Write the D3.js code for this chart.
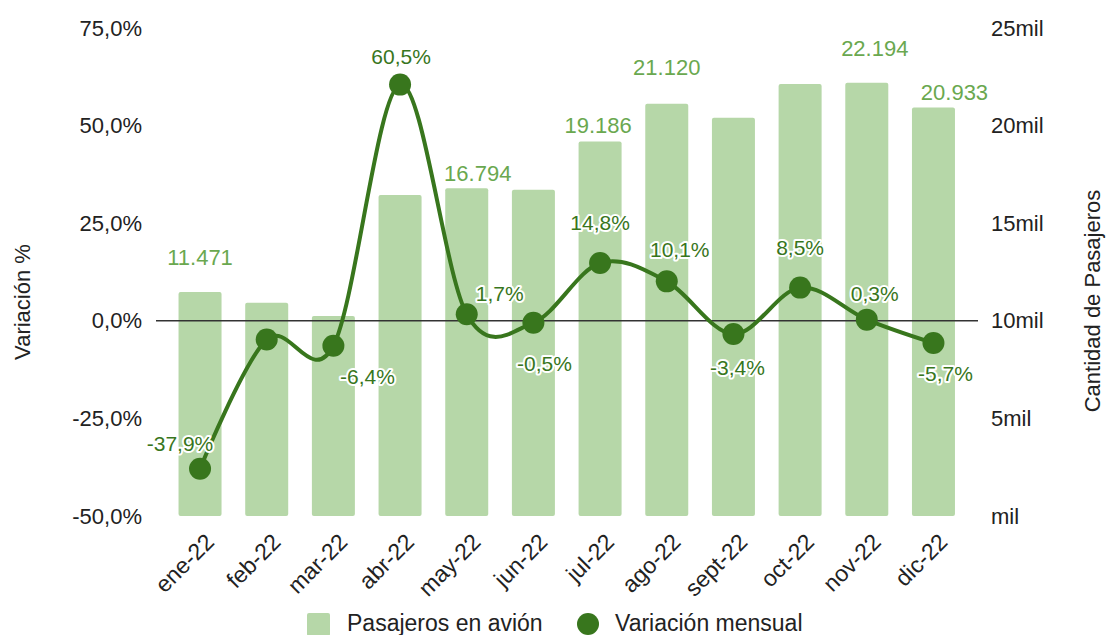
<!DOCTYPE html>
<html>
<head>
<meta charset="utf-8">
<script src="https://d3js.org/d3.v7.min.js"></script>
<style>
  body { margin: 0; background: #fff; }
  text { font-family: "Liberation Sans", Arial, sans-serif; }
</style>
</head>
<body>
<div id="chart"></div>
<script>
// data
var months = ["ene-22", "feb-22", "mar-22", "abr-22", "may-22", "jun-22",
              "jul-22", "ago-22", "sept-22", "oct-22", "nov-22", "dic-22"];
var pasajeros = [11471, 10920, 10250, 16450, 16794, 16710,
                 19186, 21120, 20402, 22136, 22194, 20933];
var variacion = [-37.9, -4.8, -6.4, 60.5, 1.7, -0.5,
                 14.8, 10.1, -3.4, 8.5, 0.3, -5.7];
var leftTicks = [-50, -25, 0, 25, 50, 75];
var rightTicks = [0, 5000, 10000, 15000, 20000, 25000];

// label placement (offset from bar top / point), null = hidden
var barLabelPos = [[0, -35], null, null, null, [11, -15], null,
                   [-2, -16], [0, -36], null, null, [8, -34], [21, -15]];
var lineLabelPos = [[-20, -25], null, [34, 31], [1, -28], [33, -21], [11, 41],
                    [0, -40], [13, -32], [4, 34], [0, -40], [8, -26], [12, 31]];

var svgWidth = 1106, svgHeight = 635;
var plot = { left: 166.7, right: 966.8, top: 28, bottom: 516 };

var barColor = "#b6d7a8", barText = "#6aa84f", lineColor = "#38761d";

var es = d3.formatLocale({ decimal: ",", thousands: ".", grouping: [3], currency: ["", ""], minus: "-" });
var fmtPct = es.format(".1f");
var fmtInt = es.format(",d");

var svg = d3.select("#chart").append("svg")
    .attr("width", svgWidth)
    .attr("height", svgHeight);

var x = d3.scaleBand()
    .domain(months)
    .range([plot.left, plot.right])
    .paddingInner(0.355)
    .paddingOuter(0.1775);

var yL = d3.scaleLinear().domain([-50, 75]).range([plot.bottom, plot.top]);
var yR = d3.scaleLinear().domain([0, 25000]).range([plot.bottom, plot.top]);

var rows = months.map((m, i) => ({
    month: m, pas: pasajeros[i], vari: variacion[i],
    barPos: barLabelPos[i], linePos: lineLabelPos[i]
}));
var cx = d => x(d.month) + x.bandwidth() / 2;

// left axis
svg.append("g")
    .attr("transform", "translate(142,0)")
    .call(d3.axisLeft(yL).tickValues(leftTicks).tickSize(0).tickPadding(0)
        .tickFormat(d => fmtPct(d) + "%"))
    .call(g => g.select(".domain").remove())
    .selectAll("text")
    .attr("font-size", 22)
    .attr("fill", "#222")
    .attr("font-family", null);

// right axis
svg.append("g")
    .attr("transform", "translate(991,0)")
    .call(d3.axisRight(yR).tickValues(rightTicks).tickSize(0).tickPadding(0)
        .tickFormat(d => (d === 0 ? "" : d / 1000) + "mil"))
    .call(g => g.select(".domain").remove())
    .selectAll("text")
    .attr("font-size", 22)
    .attr("fill", "#222")
    .attr("font-family", null);

// bars
svg.append("g").selectAll("rect")
    .data(rows)
    .enter()
    .append("rect")
    .attr("x", d => x(d.month))
    .attr("y", d => yR(d.pas))
    .attr("width", x.bandwidth())
    .attr("height", d => yR(0) - yR(d.pas))
    .attr("rx", 2)
    .attr("fill", barColor);

// zero line
svg.append("line")
    .attr("x1", 156).attr("x2", 978)
    .attr("y1", yL(0)).attr("y2", yL(0))
    .attr("stroke", "#333")
    .attr("stroke-width", 1.5);

// x labels
svg.append("g").selectAll("text")
    .data(months)
    .enter()
    .append("text")
    .attr("transform", d => `translate(${x(d) + x.bandwidth() / 2 + 4},${plot.bottom + 16}) rotate(-45)`)
    .attr("text-anchor", "end")
    .attr("dy", "0.7em")
    .attr("font-size", 23)
    .attr("fill", "#222")
    .text(d => d);

// bar labels
svg.append("g").selectAll("text")
    .data(rows.filter(d => d.barPos))
    .enter()
    .append("text")
    .attr("x", d => cx(d) + d.barPos[0])
    .attr("y", d => yR(d.pas) + d.barPos[1])
    .attr("dy", "0.35em")
    .attr("text-anchor", "middle")
    .attr("font-size", 22)
    .attr("fill", barText)
    .text(d => fmtInt(d.pas));

// line
var line = d3.line()
    .x(cx)
    .y(d => yL(d.vari))
    .curve(d3.curveCardinal.tension(0));

svg.append("path")
    .datum(rows)
    .attr("d", line)
    .attr("fill", "none")
    .attr("stroke", lineColor)
    .attr("stroke-width", 4);

svg.append("g").selectAll("circle")
    .data(rows)
    .enter()
    .append("circle")
    .attr("cx", cx)
    .attr("cy", d => yL(d.vari))
    .attr("r", 11)
    .attr("fill", lineColor);

// line labels with white halo
svg.append("g").selectAll("text")
    .data(rows.filter(d => d.linePos))
    .enter()
    .append("text")
    .attr("x", d => cx(d) + d.linePos[0])
    .attr("y", d => yL(d.vari) + d.linePos[1])
    .attr("dy", "0.35em")
    .attr("text-anchor", "middle")
    .attr("font-size", 21)
    .attr("fill", lineColor)
    .attr("stroke", "#fff")
    .attr("stroke-width", 4)
    .attr("stroke-linejoin", "round")
    .attr("paint-order", "stroke")
    .text(d => fmtPct(d.vari) + "%");

// axis titles
svg.append("text")
    .attr("transform", "translate(30,302) rotate(-90)")
    .attr("text-anchor", "middle")
    .attr("font-size", 22)
    .attr("fill", "#222")
    .text("Variación %");

svg.append("text")
    .attr("transform", "translate(1100,301) rotate(-90)")
    .attr("text-anchor", "middle")
    .attr("font-size", 22)
    .attr("fill", "#222")
    .text("Cantidad de Pasajeros");

// legend
var legend = svg.append("g");
legend.append("rect")
    .attr("x", 307).attr("y", 613)
    .attr("width", 23).attr("height", 23)
    .attr("rx", 2)
    .attr("fill", barColor);
legend.append("text")
    .attr("x", 347).attr("y", 623).attr("dy", "0.35em")
    .attr("font-size", 23).attr("fill", "#222")
    .text("Pasajeros en avión");
legend.append("circle")
    .attr("cx", 588).attr("cy", 624).attr("r", 11)
    .attr("fill", lineColor);
legend.append("text")
    .attr("x", 615).attr("y", 623).attr("dy", "0.35em")
    .attr("font-size", 23).attr("fill", "#222")
    .text("Variación mensual");
</script>
</body>
</html>
